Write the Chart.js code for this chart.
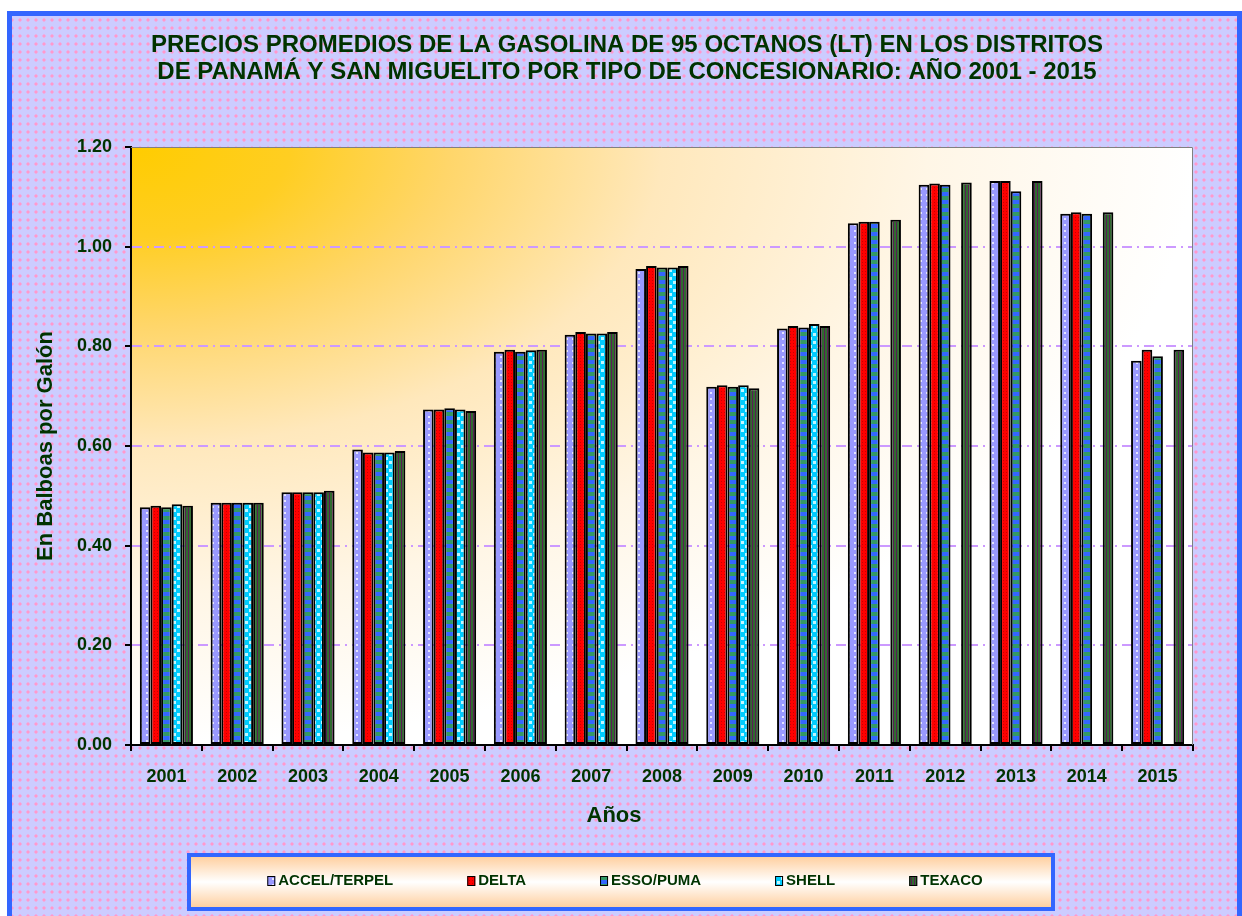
<!DOCTYPE html>
<html>
<head>
<meta charset="utf-8">
<script src="https://cdn.jsdelivr.net/npm/chart.js@4/dist/chart.umd.min.js"></script>
<style>
html,body{margin:0;padding:0;background:#fff;}
#wrap{width:1242px;height:916px;position:relative;}
</style>
</head>
<body>
<div id="wrap"><canvas id="c" width="1242" height="916"></canvas></div>
<script>
// ---- data ----
const years = ['2001','2002','2003','2004','2005','2006','2007','2008','2009','2010','2011','2012','2013','2014','2015'];
const seriesNames = ['ACCEL/TERPEL','DELTA','ESSO/PUMA','SHELL','TEXACO'];
const accelTerpel = [0.477,0.486,0.507,0.593,0.673,0.789,0.823,0.955,0.719,0.836,1.047,1.124,1.132,1.066,0.771];
const delta       = [0.480,0.486,0.507,0.587,0.673,0.793,0.829,0.961,0.722,0.841,1.050,1.127,1.132,1.069,0.793];
const essoPuma    = [0.477,0.486,0.507,0.587,0.676,0.789,0.826,0.958,0.719,0.838,1.050,1.124,1.111,1.066,0.780];
const shell       = [0.483,0.486,0.507,0.587,0.673,0.792,0.826,0.958,0.722,0.845,null,null,null,null,null];
const texaco      = [0.480,0.486,0.510,0.590,0.670,0.793,0.829,0.961,0.716,0.841,1.054,1.129,1.132,1.069,0.793];
const yTickLabels = ['0.00','0.20','0.40','0.60','0.80','1.00','1.20'];
const titleLines = ['PRECIOS PROMEDIOS DE LA GASOLINA DE 95 OCTANOS (LT) EN LOS DISTRITOS','DE PANAMÁ Y SAN MIGUELITO POR TIPO DE CONCESIONARIO: AÑO 2001 - 2015'];
const yTitle = 'En Balboas por Galón';
const xTitle = 'Años';

// ---- styles ----
const FONT = "'Liberation Sans', Arial, Helvetica, sans-serif";
const TXT = '#003300';
Chart.defaults.font.family = FONT;
const canvas = document.getElementById('c');
const mainCtx = canvas.getContext('2d');

function makePattern(w, h, draw) {
  const c = document.createElement('canvas'); c.width = w; c.height = h;
  const x = c.getContext('2d'); draw(x);
  return mainCtx.createPattern(c, 'repeat');
}
const patAccel = makePattern(6, 6, x => { x.fillStyle = '#9999FF'; x.fillRect(0,0,6,6); x.fillStyle = '#E4E4FF'; x.fillRect(2,2,2,2); });
const patDelta = makePattern(3, 3, x => { x.fillStyle = '#FF0000'; x.fillRect(0,0,3,3); x.fillStyle = '#C80000'; x.fillRect(1,1,1,1); });
const patEsso = makePattern(2, 8, x => { x.fillStyle = '#3366FF'; x.fillRect(0,0,2,4); x.fillStyle = '#339966'; x.fillRect(0,4,2,4); });
const patShell = makePattern(8, 8, x => { x.fillStyle = '#00CCFF'; x.fillRect(0,0,8,8); x.fillStyle = '#C0F6FF'; x.fillRect(1,1,3,3); x.fillRect(5,5,3,3); });
const patTexaco = makePattern(3, 2, x => { x.fillStyle = '#2F6B2F'; x.fillRect(0,0,3,2); x.fillStyle = '#5A1E55'; x.fillRect(2,0,1,2); });
const patBg = makePattern(8, 8, x => { x.fillStyle = '#CCCCFF'; x.fillRect(0,0,8,8); x.fillStyle = '#E8B0E6'; x.fillRect(3,2,2,4); x.fillRect(2,3,4,2); x.fillStyle = '#FF99CC'; x.fillRect(3,3,2,2); });

const seriesData = [accelTerpel, delta, essoPuma, shell, texaco];
const seriesFill = [patAccel, patDelta, patEsso, patShell, patTexaco];

const datasets = seriesNames.map((n, i) => ({
  label: n, data: seriesData[i], backgroundColor: seriesFill[i],
  borderColor: '#000', borderWidth: 2, borderSkipped: false,
  categoryPercentage: 0.75, barPercentage: 1.0
}));

const decor = {
  id: 'decor',
  beforeDraw(chart) {
    const ctx = chart.ctx;
    ctx.save();
    ctx.fillStyle = '#FFFFFF'; ctx.fillRect(0, 0, 1242, 916);
    ctx.fillStyle = '#3366FF'; ctx.fillRect(7, 11, 1235, 905);
    ctx.fillStyle = patBg; ctx.fillRect(12, 16, 1225, 900);
    const {left, top, right, bottom} = chart.chartArea;
    const W = right - left, H = bottom - top;
    ctx.beginPath(); ctx.rect(left, top, W, H); ctx.clip();
    ctx.translate(left, top); ctx.scale(W / H, 1);
    const g = ctx.createRadialGradient(0, 0, 0, 0, 0, H);
    g.addColorStop(0, '#FFCC00');
    g.addColorStop(0.15, '#FFCE22');
    g.addColorStop(0.3, '#FFD66A');
    g.addColorStop(0.5, '#FFE8BC');
    g.addColorStop(0.75, '#FFF6E6');
    g.addColorStop(1, '#FFFFFF');
    ctx.fillStyle = g; ctx.fillRect(0, 0, H, H);
    ctx.restore();
  },
  afterDraw(chart) {
    const ctx = chart.ctx;
    const {left, top, right, bottom} = chart.chartArea;
    ctx.save();
    // plot area outline (top/right)
    ctx.strokeStyle = '#808080'; ctx.lineWidth = 1;
    ctx.beginPath(); ctx.moveTo(left, top + 0.5); ctx.lineTo(right - 0.5, top + 0.5); ctx.lineTo(right - 0.5, bottom); ctx.stroke();
    // x axis title
    ctx.fillStyle = TXT; ctx.font = 'bold 22px ' + FONT;
    ctx.textAlign = 'center'; ctx.textBaseline = 'middle';
    ctx.fillText(xTitle, 614, 816);
    // legend frame
    const lg = ctx.createLinearGradient(0, 855, 0, 909);
    lg.addColorStop(0, '#FFCC99'); lg.addColorStop(0.5, '#FFFFFF'); lg.addColorStop(1, '#FFCC99');
    ctx.fillStyle = lg; ctx.fillRect(189, 855, 864, 54);
    ctx.strokeStyle = '#3366FF'; ctx.lineWidth = 4; ctx.strokeRect(189, 855, 864, 54);
    // legend items
    ctx.font = 'bold 15px ' + FONT; ctx.textAlign = 'left';
    const boxW = 8, boxH = 10, gapBT = 3, gapItems = 74, cy = 881;
    const widths = chart.data.datasets.map(d => boxW + gapBT + ctx.measureText(d.label).width);
    const total = widths.reduce((a, b) => a + b, 0) + gapItems * (widths.length - 1);
    let x = 625 - total / 2;
    chart.data.datasets.forEach((d, i) => {
      ctx.fillStyle = d.backgroundColor; ctx.fillRect(x, cy - boxH / 2, boxW, boxH);
      ctx.strokeStyle = '#000'; ctx.lineWidth = 1; ctx.strokeRect(x + 0.5, cy - boxH / 2 + 0.5, boxW - 1, boxH - 1);
      ctx.fillStyle = TXT; ctx.fillText(d.label, x + boxW + gapBT, cy);
      x += widths[i] + gapItems;
    });
    ctx.restore();
  }
};

new Chart(canvas, {
  type: 'bar',
  data: { labels: years, datasets },
  options: {
    responsive: false, animation: false, devicePixelRatio: 1,
    layout: { padding: { left: 12, right: 0, top: 0, bottom: 0 } },
    plugins: {
      legend: { display: false },
      tooltip: { enabled: false },
      title: {
        display: true, text: titleLines, color: TXT,
        font: { size: 24, weight: 'bold', lineHeight: 1.125 },
        padding: { top: 31.5, bottom: 61.5 }
      }
    },
    scales: {
      x: {
        grid: { offset: true, drawOnChartArea: false, color: '#000', lineWidth: 2, tickLength: 6 },
        border: { color: '#000', width: 2 },
        ticks: { color: TXT, font: { size: 18, weight: 'bold' }, padding: 15, maxRotation: 0, autoSkip: false },
        afterFit(s) { s.height = 171; }
      },
      y: {
        min: 0, max: 1.2,
        ticks: { stepSize: 0.2, color: TXT, font: { size: 18, weight: 'bold' }, padding: 13,
                 callback: (v, i) => yTickLabels[i] },
        grid: { color: c => (c.index === 0 || c.index === yTickLabels.length - 1) ? 'rgba(0,0,0,0)' : '#CC99FF',
                lineWidth: 2, tickLength: 6, tickColor: '#000', tickWidth: 2 },
        border: { color: '#000', width: 2, dash: [10, 5, 2, 5] },
        title: { display: true, text: yTitle, color: TXT, font: { size: 22, weight: 'bold' }, padding: { top: 20.8, bottom: 0 } },
        afterFit(s) { s.width = 119; }
      },
      y2: {
        position: 'right', display: true,
        grid: { display: false }, ticks: { display: false }, border: { display: false },
        afterFit(s) { s.width = 49; }
      }
    }
  },
  plugins: [decor]
});
</script>
</body>
</html>
